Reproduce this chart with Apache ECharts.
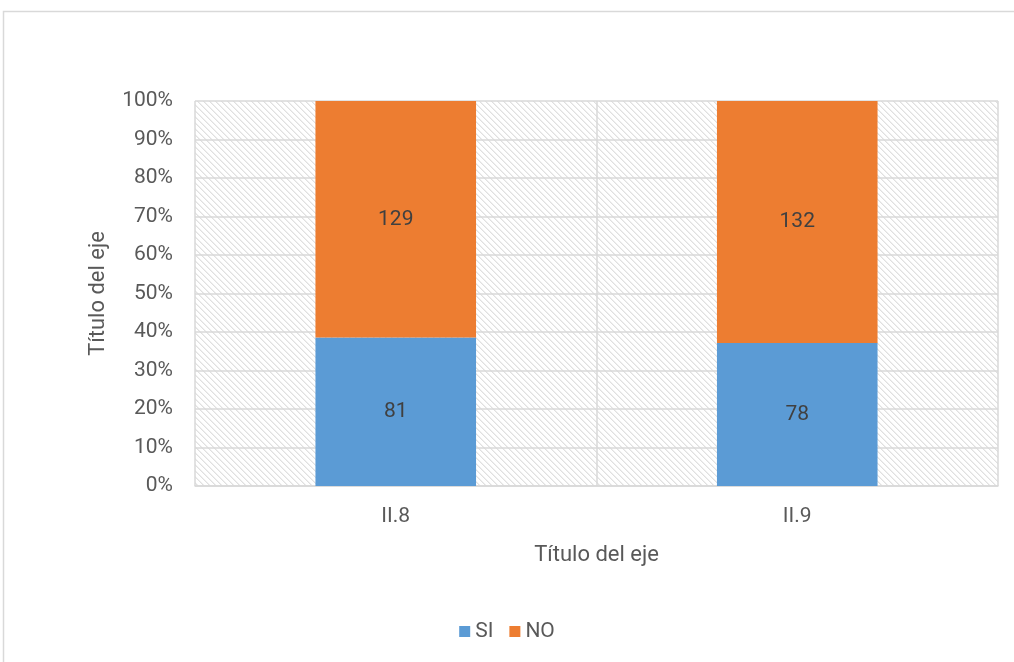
<!DOCTYPE html>
<html><head><meta charset="utf-8">
<script src="https://cdn.jsdelivr.net/npm/echarts@6/dist/echarts.min.js"></script>
<style>html,body{margin:0;padding:0;background:#fff}#c{width:1014px;height:662px}</style>
</head><body><div id="c"></div>
<script>
var categories = ['II.8', 'II.9'];
var siCounts = [81, 78];
var noCounts = [129, 132];
var seriesNames = ['SI', 'NO'];
var yTicks = [0, 10, 20, 30, 40, 50, 60, 70, 80, 90, 100];

var totals = categories.map(function(_, i){ return siCounts[i] + noCounts[i]; });
var siPct = siCounts.map(function(v, i){ return { value: v / totals[i] * 100, raw: v }; });
var noPct = noCounts.map(function(v, i){ return { value: v / totals[i] * 100, raw: v }; });

var pc = document.createElement('canvas');
pc.width = 6; pc.height = 6;
var ctx = pc.getContext('2d');
ctx.fillStyle = '#ffffff'; ctx.fillRect(0,0,6,6);
ctx.fillStyle = '#e0e0e0';
for (var i = 0; i < 6; i++) { ctx.fillRect(i, i, 1, 1); }
ctx.fillStyle = '#efefef';
for (var j = 0; j < 6; j++) { ctx.fillRect((j+1)%6, j, 1, 1); }

var font = 'Roboto, "Open Sans", sans-serif';
var chart = echarts.init(document.getElementById('c'));
chart.setOption({
  animation: false,
  textStyle: { fontFamily: font },
  graphic: [{ type: 'rect', shape: { x: 3.5, y: 11.5, width: 1030, height: 700 }, style: { fill: 'none', stroke: '#d9d9d9', lineWidth: 1.5 }, silent: true }],
  grid: { left: 195, right: 16, top: 101, bottom: 176, show: true, backgroundColor: { image: pc, repeat: 'repeat' }, borderWidth: 0 },
  legend: {
    data: seriesNames, bottom: 15, left: 'center', itemWidth: 11, itemHeight: 11, itemGap: 16,
    icon: 'rect', textStyle: { fontSize: 21, color: '#595959', fontFamily: font }
  },
  xAxis: {
    type: 'category', data: categories,
    name: 'Título del eje', nameLocation: 'middle', nameGap: 58,
    nameTextStyle: { fontSize: 22, color: '#595959', fontFamily: font },
    axisLine: { lineStyle: { color: '#d9d9d9', width: 1.5 } },
    axisTick: { show: false },
    axisLabel: { fontSize: 21, color: '#595959', margin: 20, fontFamily: font },
    splitLine: { show: true, lineStyle: { color: '#d9d9d9', width: 1.5 } }
  },
  yAxis: {
    type: 'value', min: 0, max: 100, interval: 10,
    name: 'Título del eje', nameLocation: 'middle', nameGap: 86,
    nameTextStyle: { fontSize: 22, color: '#595959', fontFamily: font },
    axisLine: { show: false }, axisTick: { show: false },
    axisLabel: { fontSize: 21, color: '#595959', margin: 22, fontFamily: font,
      formatter: function(v){ return yTicks.indexOf(v) >= 0 ? v + '%' : ''; } },
    splitLine: { lineStyle: { color: '#d9d9d9', width: 1.5 } }
  },
  series: [
    { name: 'SI', type: 'bar', stack: 'a', barWidth: '40%', data: siPct,
      itemStyle: { color: '#5b9bd5' },
      label: { show: true, position: 'inside', fontSize: 21, color: '#404040', fontFamily: font,
        formatter: function(p){ return p.data.raw; } } },
    { name: 'NO', type: 'bar', stack: 'a', data: noPct,
      itemStyle: { color: '#ed7d31' },
      label: { show: true, position: 'inside', fontSize: 21, color: '#404040', fontFamily: font,
        formatter: function(p){ return p.data.raw; } } }
  ]
});
</script></body></html>
